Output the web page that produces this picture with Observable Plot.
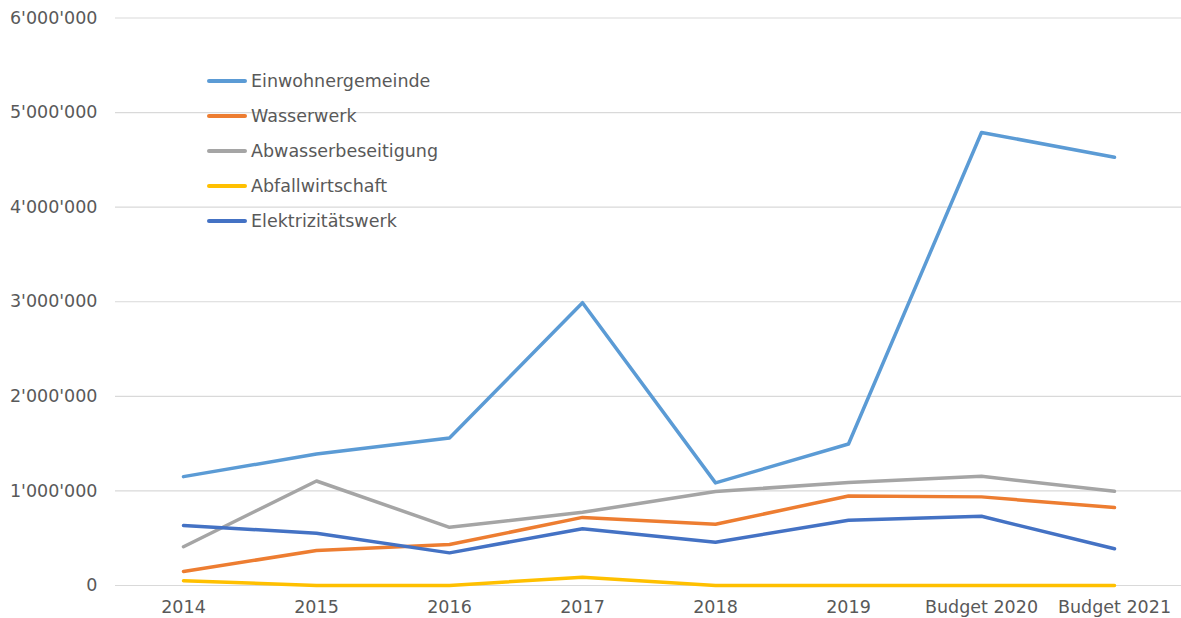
<!DOCTYPE html>
<html><head><meta charset="utf-8">
<script src="https://cdn.jsdelivr.net/npm/d3@7"></script>
<script src="https://cdn.jsdelivr.net/npm/@observablehq/plot@0.6"></script>
<style>
html,body{margin:0;padding:0;background:#fff;}
#wrap{position:relative;width:1181px;height:618px;font-family:"DejaVu Sans",Verdana,sans-serif;}
#legend{position:absolute;left:207px;top:63px;font-size:17.5px;color:#595959;}
#legend .item{display:flex;align-items:center;height:35px;}
#legend .sw{width:40px;height:4px;border-radius:2px;margin-right:4px;}
</style></head>
<body><div id="wrap"><div id="chart"></div><div id="legend"></div></div>
<script>
const years = ["2014","2015","2016","2017","2018","2019","Budget 2020","Budget 2021"];
const seriesNames = ["Einwohnergemeinde","Wasserwerk","Abwasserbeseitigung","Abfallwirtschaft","Elektrizitätswerk"];
const colors = ["#5B9BD5","#ED7D31","#A5A5A5","#FFC000","#4472C4"];
const einwohnergemeinde = [1151000,1390000,1560000,2990000,1085000,1496000,4790000,4527000];
const wasserwerk = [148000,370000,433000,720000,647000,947000,937000,824000];
const abwasserbeseitigung = [410000,1105000,615000,774000,993000,1090000,1154000,996000];
const abfallwirtschaft = [50000,0,0,88000,0,0,0,0];
const elektrizitaetswerk = [634000,553000,345000,600000,457000,690000,732000,388000];
const yTicks = [0,1000000,2000000,3000000,4000000,5000000,6000000];

const allValues = [einwohnergemeinde,wasserwerk,abwasserbeseitigung,abfallwirtschaft,elektrizitaetswerk];
const data = [];
seriesNames.forEach((s,i)=>years.forEach((y,j)=>data.push({series:s,year:y,value:allValues[i][j]})));

const fmt = d3.formatLocale({decimal:".",thousands:"'",grouping:[3],currency:["",""]}).format(",");

const chart = Plot.plot({
  width:1181, height:618,
  marginLeft:115, marginRight:0, marginTop:17.5, marginBottom:33,
  style:{fontFamily:"'DejaVu Sans', Verdana, sans-serif", fontSize:"17.5px", color:"#595959", background:"#fff", overflow:"visible"},
  x:{type:"point", domain:years, padding:0.5, label:null},
  y:{domain:[0,6000000], label:null},
  color:{domain:seriesNames, range:colors},
  marks:[
    Plot.gridY(yTicks,{stroke:"#d9d9d9", strokeOpacity:1, strokeWidth:1.2}),
    Plot.axisY(yTicks,{tickSize:0, tickPadding:18, tickFormat:fmt, fill:"#595959", fontSize:17.5}),
    Plot.axisX({tickSize:0, tickPadding:15, fill:"#595959", fontSize:17.5}),
    Plot.line(data,{x:"year", y:"value", z:"series", stroke:"series", strokeWidth:3.5, strokeLinejoin:"round", strokeLinecap:"round"})
  ]
});
document.getElementById("chart").appendChild(chart);

const leg = document.getElementById("legend");
seriesNames.forEach((s,i)=>{
  const d = document.createElement("div"); d.className="item";
  const sw = document.createElement("div"); sw.className="sw"; sw.style.background=colors[i];
  const t = document.createElement("span"); t.textContent=s;
  d.appendChild(sw); d.appendChild(t); leg.appendChild(d);
});
</script></body></html>
